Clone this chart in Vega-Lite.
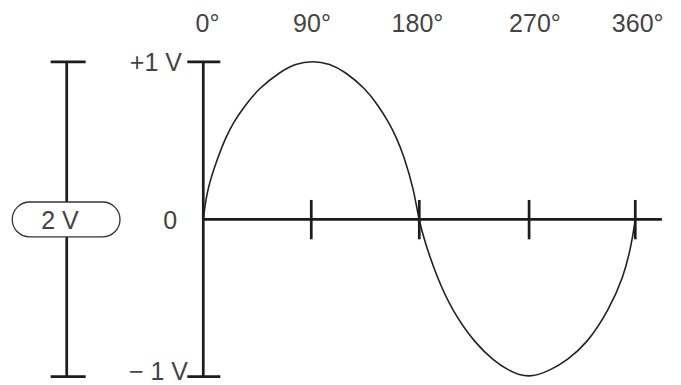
{
  "$schema": "https://vega.github.io/schema/vega-lite/v6.json",
  "width": 681,
  "height": 385,
  "autosize": {"type": "none"},
  "padding": 0,
  "background": "white",
  "config": {"view": {"stroke": null}},
  "datasets": {
    "curve": [
      {"deg": 0, "v": 0},
      {"deg": 3.2, "v": 0.195},
      {"deg": 12.8, "v": 0.407},
      {"deg": 18.3, "v": 0.513},
      {"deg": 25.3, "v": 0.619},
      {"deg": 35, "v": 0.725},
      {"deg": 46.1, "v": 0.831},
      {"deg": 64.2, "v": 0.937},
      {"deg": 76.7, "v": 0.988},
      {"deg": 91, "v": 1.008},
      {"deg": 105.5, "v": 0.988},
      {"deg": 118.3, "v": 0.937},
      {"deg": 135, "v": 0.831},
      {"deg": 145.6, "v": 0.725},
      {"deg": 154.4, "v": 0.619},
      {"deg": 161.4, "v": 0.513},
      {"deg": 166.9, "v": 0.407},
      {"deg": 175.3, "v": 0.195},
      {"deg": 179.5, "v": 0},
      {"deg": 185, "v": -0.154},
      {"deg": 194.7, "v": -0.367},
      {"deg": 207.2, "v": -0.578},
      {"deg": 226.7, "v": -0.79},
      {"deg": 241.9, "v": -0.896},
      {"deg": 252.8, "v": -0.955},
      {"deg": 271, "v": -1.015},
      {"deg": 290.3, "v": -0.955},
      {"deg": 303, "v": -0.896},
      {"deg": 319.7, "v": -0.79},
      {"deg": 337.8, "v": -0.578},
      {"deg": 350.3, "v": -0.367},
      {"deg": 357, "v": -0.154},
      {"deg": 360, "v": 0}
    ],
    "segments": [
      {"part": "bracket", "x1": -113.8, "x2": -113.8, "y1": -1, "y2": 1},
      {"part": "bracket cap top", "x1": -127.2, "x2": -98, "y1": 1, "y2": 1},
      {"part": "bracket cap bottom", "x1": -127.2, "x2": -98, "y1": -1, "y2": -1},
      {"part": "y axis", "x1": 0, "x2": 0, "y1": -1, "y2": 1},
      {"part": "y cap top", "x1": -13.3, "x2": 14.2, "y1": 1, "y2": 1},
      {"part": "y cap bottom", "x1": -13.3, "x2": 14.2, "y1": -1, "y2": -1},
      {"part": "x axis", "x1": 0, "x2": 382.2, "y1": 0, "y2": 0},
      {"part": "tick 90", "x1": 90, "x2": 90, "y1": -0.127, "y2": 0.123},
      {"part": "tick 180", "x1": 180, "x2": 180, "y1": -0.127, "y2": 0.123},
      {"part": "tick 270", "x1": 271.5, "x2": 271.5, "y1": -0.127, "y2": 0.123},
      {"part": "tick 360", "x1": 360, "x2": 360, "y1": -0.127, "y2": 0.123}
    ],
    "pill": [
      {"x1": -159.2, "x2": -69.4, "y1": -0.112, "y2": 0.11}
    ],
    "centerLabels": [
      {"x": 3.5, "y": 1.241, "label": "0°"},
      {"x": 90.6, "y": 1.241, "label": "90°"},
      {"x": 178.5, "y": 1.241, "label": "180°"},
      {"x": 276.4, "y": 1.241, "label": "270°"},
      {"x": 362, "y": 1.241, "label": "360°"},
      {"x": -27.5, "y": -0.008, "label": "0"},
      {"x": -119.4, "y": -0.011, "label": "2 V"}
    ],
    "rightLabels": [
      {"x": -17.75, "y": 0.99, "label": "+1 V"},
      {"x": -12.75, "y": -0.97, "label": "− 1 V"}
    ]
  },
  "layer": [
    {
      "data": {"name": "segments"},
      "mark": {"type": "rule", "color": "#1c1c1c", "strokeWidth": 2.7},
      "encoding": {
        "x": {"field": "x1", "type": "quantitative", "scale": {"domain": [-169.4, 398.1], "nice": false, "zero": false}, "axis": null},
        "x2": {"field": "x2"},
        "y": {"field": "y1", "type": "quantitative", "scale": {"domain": [-1.0527, 1.3933], "nice": false, "zero": false}, "axis": null},
        "y2": {"field": "y2"}
      }
    },
    {
      "data": {"name": "pill"},
      "mark": {"type": "rect", "fill": "white", "stroke": "#333333", "strokeWidth": 1.3, "cornerRadius": 17.5},
      "encoding": {
        "x": {"field": "x1", "type": "quantitative", "scale": {"domain": [-169.4, 398.1], "nice": false, "zero": false}, "axis": null},
        "x2": {"field": "x2"},
        "y": {"field": "y1", "type": "quantitative", "scale": {"domain": [-1.0527, 1.3933], "nice": false, "zero": false}, "axis": null},
        "y2": {"field": "y2"}
      }
    },
    {
      "data": {"name": "curve"},
      "mark": {"type": "line", "color": "#222222", "strokeWidth": 1.6, "interpolate": "basis"},
      "encoding": {
        "x": {"field": "deg", "type": "quantitative", "scale": {"domain": [-169.4, 398.1], "nice": false, "zero": false}, "axis": null},
        "y": {"field": "v", "type": "quantitative", "scale": {"domain": [-1.0527, 1.3933], "nice": false, "zero": false}, "axis": null},
        "order": {"field": "deg", "type": "quantitative"}
      }
    },
    {
      "data": {"name": "centerLabels"},
      "mark": {"type": "text", "font": "Liberation Sans", "fontSize": 25, "color": "#444444", "align": "center", "baseline": "middle"},
      "encoding": {
        "x": {"field": "x", "type": "quantitative", "scale": {"domain": [-169.4, 398.1], "nice": false, "zero": false}, "axis": null},
        "y": {"field": "y", "type": "quantitative", "scale": {"domain": [-1.0527, 1.3933], "nice": false, "zero": false}, "axis": null},
        "text": {"field": "label", "type": "nominal"}
      }
    },
    {
      "data": {"name": "rightLabels"},
      "mark": {"type": "text", "font": "Liberation Sans", "fontSize": 25, "color": "#444444", "align": "right", "baseline": "middle"},
      "encoding": {
        "x": {"field": "x", "type": "quantitative", "scale": {"domain": [-169.4, 398.1], "nice": false, "zero": false}, "axis": null},
        "y": {"field": "y", "type": "quantitative", "scale": {"domain": [-1.0527, 1.3933], "nice": false, "zero": false}, "axis": null},
        "text": {"field": "label", "type": "nominal"}
      }
    }
  ]
}
